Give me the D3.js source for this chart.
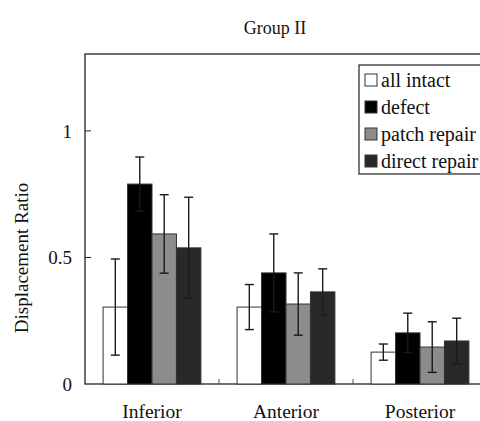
<!DOCTYPE html>
<html>
<head>
	<meta charset="utf-8">
	<script src="https://d3js.org/d3.v7.min.js"></script>
	<style>
		body { margin: 0; background: #fff; }
		text { font-family: "Liberation Serif", "Times New Roman", serif; fill: #111; }
	</style>
</head>
<body>
	<div id="my_dataviz"></div>
	<script>

	// chart data
	const categories = ["Inferior", "Anterior", "Posterior"]
	const series = ["all intact", "defect", "patch repair", "direct repair"]
	const colors = ["#ffffff", "#000000", "#8c8c8c", "#282828"]
	// mean values per series (rows) for each category (columns)
	const means = [
		[0.304, 0.304, 0.126],
		[0.790, 0.439, 0.202],
		[0.593, 0.316, 0.146],
		[0.538, 0.364, 0.170]
	]
	// error bar half-lengths
	const errors = [
		[0.190, 0.089, 0.032],
		[0.107, 0.154, 0.078],
		[0.155, 0.123, 0.100],
		[0.200, 0.091, 0.090]
	]
	const yTicks = [0, 0.5, 1]

	const width = 480
	const height = 421
	const margin = { top: 54, left: 85, bottom: 37 }
	const plotRight = 487

	const svg = d3.select("#my_dataviz")
	  .append("svg")
	    .attr("width", width)
	    .attr("height", height)

	const y = d3.scaleLinear()
		.domain([0, 1.304])
		.range([height - margin.bottom, margin.top])

	const x = d3.scaleBand()
		.domain(categories)
		.range([margin.left, plotRight])

	const xs = d3.scaleBand()
		.domain(series)
		.range([0, x.bandwidth()])
		.paddingOuter(0.74)

	// frame
	svg.append("rect")
		.attr("x", margin.left)
		.attr("y", margin.top)
		.attr("width", plotRight - margin.left)
		.attr("height", y(0) - margin.top)
		.attr("fill", "none")
		.attr("stroke", "#222")
		.attr("stroke-width", 1.3)

	// y ticks (inward)
	svg.append("g")
		.selectAll("line")
		.data(yTicks.filter(d => d > 0))
		.join("line")
		  .attr("x1", margin.left)
		  .attr("x2", margin.left + 6)
		  .attr("y1", d => y(d))
		  .attr("y2", d => y(d))
		  .attr("stroke", "#222")

	svg.append("g")
		.selectAll("text")
		.data(yTicks)
		.join("text")
		  .attr("x", margin.left - 13)
		  .attr("y", d => y(d))
		  .attr("dy", "0.35em")
		  .attr("text-anchor", "end")
		  .style("font-size", "19px")
		  .text(d => d)

	// x category separators (small upward ticks)
	svg.append("g")
		.selectAll("line")
		.data(categories.slice(1))
		.join("line")
		  .attr("x1", d => x(d))
		  .attr("x2", d => x(d))
		  .attr("y1", y(0))
		  .attr("y2", y(0) - 5)
		  .attr("stroke", "#555")

	svg.append("g")
		.selectAll("text")
		.data(categories)
		.join("text")
		  .attr("x", d => x(d) + x.bandwidth() / 2)
		  .attr("y", 418)
		  .attr("text-anchor", "middle")
		  .style("font-size", "19.5px")
		  .text(d => d)

	// flatten data for bars
	const rows = []
	series.forEach((s, i) => {
		categories.forEach((c, j) => {
			rows.push({ series: s, cat: c, value: means[i][j], err: errors[i][j], color: colors[i] })
		})
	})

	const bars = svg.append("g")
	bars.selectAll("rect")
		.data(rows)
		.join("rect")
		  .attr("x", d => x(d.cat) + xs(d.series))
		  .attr("y", d => y(d.value))
		  .attr("width", xs.bandwidth())
		  .attr("height", d => y(0) - y(d.value))
		  .attr("fill", d => d.color)
		  .attr("stroke", "#333")
		  .attr("stroke-width", 1)

	// error bars
	const eb = svg.append("g").attr("stroke", "#1a1a1a").attr("stroke-width", 1.4)
	rows.forEach(d => {
		const cx = x(d.cat) + xs(d.series) + xs.bandwidth() / 2
		const top = y(d.value + d.err)
		const bot = y(Math.max(0, d.value - d.err))
		eb.append("line").attr("x1", cx).attr("x2", cx).attr("y1", top).attr("y2", bot)
		eb.append("line").attr("x1", cx - 4.5).attr("x2", cx + 4.5).attr("y1", top).attr("y2", top)
		eb.append("line").attr("x1", cx - 4.5).attr("x2", cx + 4.5).attr("y1", bot).attr("y2", bot)
	})

	// title
	svg.append("text")
		.attr("x", 275)
		.attr("y", 34)
		.attr("text-anchor", "middle")
		.style("font-size", "18px")
		.text("Group II")

	// y axis label
	svg.append("text")
		.attr("transform", "translate(28,258) rotate(-90)")
		.attr("text-anchor", "middle")
		.style("font-size", "19px")
		.text("Displacement Ratio")

	// legend
	const legend = svg.append("g").attr("transform", "translate(359,65)")
	legend.append("rect")
		.attr("width", 140)
		.attr("height", 109)
		.attr("fill", "#fff")
		.attr("stroke", "#222")
		.attr("stroke-width", 1.2)
	const item = legend.selectAll("g.item")
		.data(series)
		.join("g")
		  .attr("class", "item")
		  .attr("transform", (d, i) => `translate(6,${15 + i * 27})`)
	item.append("rect")
		.attr("y", -6)
		.attr("width", 12)
		.attr("height", 12)
		.attr("fill", (d, i) => colors[i])
		.attr("stroke", "#333")
	item.append("text")
		.attr("x", 16)
		.attr("dy", "0.33em")
		.style("font-size", "20px")
		.text(d => d)

	</script>
</body>
</html>
